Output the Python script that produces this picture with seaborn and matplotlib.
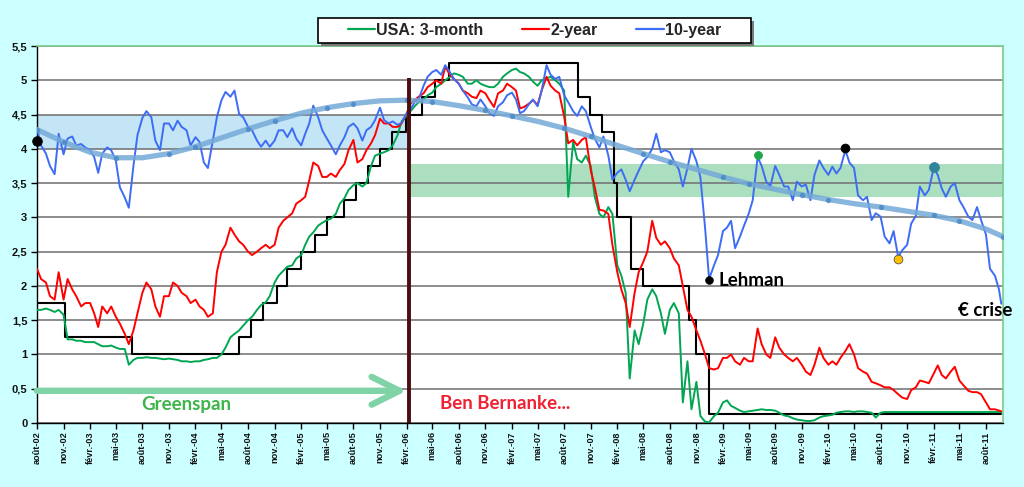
import numpy as np
import pandas as pd
import matplotlib
matplotlib.use("Agg")
import matplotlib.pyplot as plt
import matplotlib.dates as mdates
from matplotlib.ticker import FuncFormatter, MultipleLocator
from matplotlib.lines import Line2D
from matplotlib.patches import Rectangle
import seaborn as sns

# ---------------- data ----------------
# semi-monthly sample dates: 1st and 15th of each month, Aug 2002 .. Sep 2011, plus last day
month_starts = pd.date_range("2002-08-01", "2011-09-01", freq="MS")
dates = sorted(list(month_starts) + list(month_starts + pd.Timedelta(days=14)))
dates.append(pd.Timestamp("2011-09-23"))

y10_2002 = [4.30, 4.05, 3.93, 3.75, 3.63, 4.22, 3.92, 4.15, 4.18, 4.05]
y10_2003 = [4.07, 4.02, 3.98, 3.88, 3.65, 3.93, 4.02, 3.98, 3.83, 3.44, 3.29, 3.14,
            3.75, 4.20, 4.45, 4.55, 4.46, 4.12, 3.98, 4.37, 4.37, 4.27, 4.41, 4.32]
y10_2004 = [4.27, 4.05, 4.17, 4.10, 3.80, 3.72, 4.12, 4.46, 4.71, 4.83, 4.76, 4.85,
            4.51, 4.46, 4.32, 4.27, 4.12, 4.03, 4.12, 4.03, 4.12, 4.27, 4.27, 4.17]
y10_2005 = [4.30, 4.15, 4.05, 4.22, 4.37, 4.63, 4.46, 4.27, 4.15, 4.05, 3.92, 4.05,
            4.17, 4.32, 4.37, 4.30, 4.12, 4.27, 4.32, 4.42, 4.60, 4.42, 4.37, 4.40]
y10_2006 = [4.35, 4.38, 4.52, 4.58, 4.68, 4.72, 4.92, 5.05, 5.12, 5.15, 5.08, 5.22,
            5.12, 5.02, 4.95, 4.85, 4.75, 4.65, 4.62, 4.72, 4.62, 4.52, 4.48, 4.62]
y10_2007 = [4.68, 4.78, 4.82, 4.72, 4.52, 4.55, 4.65, 4.72, 4.62, 4.85, 5.22, 5.08,
            5.02, 5.05, 4.78, 4.68, 4.55, 4.48, 4.62, 4.55, 4.32, 4.15, 4.02, 4.18]
y10_2008 = [3.90, 3.55, 3.65, 3.70, 3.55, 3.38, 3.55, 3.68, 3.82, 3.88, 4.00, 4.22,
            3.95, 3.98, 3.95, 3.82, 3.70, 3.45, 3.72, 4.00, 3.82, 3.58, 2.85, 2.10]
y10_2009 = [2.30, 2.45, 2.80, 2.85, 2.95, 2.55, 2.72, 2.88, 3.05, 3.25, 3.88, 3.75,
            3.52, 3.45, 3.75, 3.62, 3.45, 3.45, 3.25, 3.52, 3.45, 3.48, 3.25, 3.62]
y10_2010 = [3.83, 3.72, 3.62, 3.74, 3.64, 3.72, 3.98, 3.80, 3.72, 3.32, 3.25, 3.30,
            2.96, 3.06, 3.01, 2.72, 2.62, 2.80, 2.42, 2.52, 2.60, 2.91, 3.02, 3.45]
y10_2011 = [3.32, 3.40, 3.72, 3.62, 3.42, 3.30, 3.45, 3.50, 3.25, 3.15, 3.01, 2.96,
            3.15, 2.96, 2.75, 2.25, 2.15, 1.95, 1.74]

y2_2002 = [2.25, 2.10, 2.05, 1.85, 1.80, 2.20, 1.80, 2.10, 1.95, 1.85]
y2_2003 = [1.70, 1.75, 1.75, 1.60, 1.40, 1.70, 1.60, 1.70, 1.55, 1.45, 1.30, 1.15,
           1.35, 1.60, 1.90, 2.05, 1.95, 1.70, 1.55, 1.85, 1.85, 2.05, 2.00, 1.90]
y2_2004 = [1.85, 1.75, 1.80, 1.70, 1.65, 1.55, 1.60, 2.20, 2.50, 2.60, 2.85, 2.75,
           2.65, 2.60, 2.50, 2.45, 2.50, 2.55, 2.60, 2.55, 2.60, 2.85, 2.95, 3.00]
y2_2005 = [3.06, 3.20, 3.25, 3.30, 3.54, 3.80, 3.75, 3.59, 3.59, 3.64, 3.59, 3.69,
           3.78, 3.98, 4.13, 3.80, 3.85, 3.98, 4.08, 4.20, 4.44, 4.37, 4.37, 4.32]
y2_2006 = [4.32, 4.37, 4.51, 4.66, 4.71, 4.76, 4.81, 4.90, 4.95, 5.00, 4.95, 5.20,
           5.08, 5.02, 4.95, 4.85, 4.81, 4.76, 4.74, 4.85, 4.81, 4.71, 4.61, 4.81]
y2_2007 = [4.85, 4.95, 4.90, 4.85, 4.59, 4.61, 4.66, 4.71, 4.64, 4.85, 5.05, 4.92,
           4.85, 4.81, 4.47, 4.08, 4.13, 4.05, 4.13, 4.17, 3.69, 3.44, 3.11, 3.10]
y2_2008 = [3.05, 2.60, 2.20, 1.95, 1.75, 1.40, 1.90, 2.20, 2.35, 2.50, 2.95, 2.70,
           2.60, 2.65, 2.55, 2.40, 2.30, 2.00, 1.65, 1.55, 1.35, 1.20, 1.00, 0.80]
y2_2009 = [0.78, 0.80, 0.95, 0.95, 1.00, 0.90, 0.85, 0.95, 0.90, 0.90, 1.38, 1.15,
           1.00, 0.95, 1.25, 1.10, 1.00, 0.95, 0.90, 0.95, 0.85, 0.75, 0.70, 0.85]
y2_2010 = [1.10, 0.95, 0.85, 0.90, 0.85, 0.95, 1.05, 1.15, 1.00, 0.80, 0.75, 0.72,
           0.60, 0.58, 0.55, 0.52, 0.52, 0.48, 0.42, 0.37, 0.35, 0.48, 0.52, 0.62]
y2_2011 = [0.60, 0.58, 0.72, 0.84, 0.70, 0.65, 0.75, 0.82, 0.62, 0.55, 0.47, 0.45,
           0.45, 0.42, 0.30, 0.20, 0.20, 0.18, 0.17]

y3m_2002 = [1.65, 1.65, 1.67, 1.65, 1.62, 1.65, 1.58, 1.22, 1.22, 1.20]
y3m_2003 = [1.20, 1.18, 1.18, 1.18, 1.15, 1.12, 1.12, 1.13, 1.10, 1.08, 1.08, 0.85,
            0.92, 0.95, 0.95, 0.96, 0.95, 0.95, 0.94, 0.93, 0.94, 0.93, 0.92, 0.90]
y3m_2004 = [0.90, 0.89, 0.90, 0.90, 0.92, 0.93, 0.95, 0.95, 1.00, 1.10, 1.25, 1.30,
            1.35, 1.42, 1.50, 1.55, 1.65, 1.72, 1.76, 1.85, 2.05, 2.15, 2.22, 2.28]
y3m_2005 = [2.30, 2.40, 2.45, 2.60, 2.72, 2.78, 2.88, 2.92, 2.96, 2.98, 3.05, 3.20,
            3.28, 3.40, 3.47, 3.50, 3.45, 3.50, 3.75, 3.90, 3.93, 3.95, 3.98, 4.05]
y3m_2006 = [4.20, 4.40, 4.48, 4.55, 4.62, 4.68, 4.72, 4.78, 4.82, 4.90, 4.95, 5.00,
            5.05, 5.10, 5.08, 5.05, 4.95, 4.95, 5.00, 4.95, 4.92, 4.90, 4.90, 4.95]
y3m_2007 = [5.05, 5.10, 5.15, 5.17, 5.12, 5.10, 5.05, 4.98, 4.92, 5.00, 5.03, 5.05,
            5.00, 4.95, 4.85, 3.30, 4.10, 3.85, 3.80, 3.90, 3.75, 3.30, 3.05, 3.00]
y3m_2008 = [3.15, 3.05, 2.30, 2.15, 1.90, 0.65, 1.35, 1.15, 1.45, 1.80, 1.95, 1.85,
            1.60, 1.30, 1.65, 1.75, 1.60, 0.30, 0.90, 0.20, 0.60, 0.10, 0.02, 0.01]
y3m_2009 = [0.10, 0.15, 0.30, 0.33, 0.25, 0.22, 0.18, 0.16, 0.17, 0.18, 0.19, 0.20,
            0.19, 0.19, 0.18, 0.15, 0.11, 0.10, 0.07, 0.05, 0.04, 0.03, 0.03, 0.04]
y3m_2010 = [0.08, 0.10, 0.11, 0.12, 0.15, 0.16, 0.17, 0.17, 0.16, 0.17, 0.17, 0.16,
            0.15, 0.08, 0.15, 0.16, 0.16, 0.16, 0.16, 0.16, 0.16, 0.16, 0.16, 0.16]
y3m_2011 = [0.16, 0.16, 0.16, 0.16, 0.16, 0.16, 0.16, 0.16, 0.16, 0.16, 0.16, 0.16,
            0.16, 0.16, 0.16, 0.16, 0.16, 0.16, 0.16]

y10 = (y10_2002 + y10_2003 + y10_2004 + y10_2005 + y10_2006 + y10_2007 +
       y10_2008 + y10_2009 + y10_2010 + y10_2011)
y2 = (y2_2002 + y2_2003 + y2_2004 + y2_2005 + y2_2006 + y2_2007 +
      y2_2008 + y2_2009 + y2_2010 + y2_2011)
y3m = (y3m_2002 + y3m_2003 + y3m_2004 + y3m_2005 + y3m_2006 + y3m_2007 +
       y3m_2008 + y3m_2009 + y3m_2010 + y3m_2011)

# Fed funds target (black step line)
ff_dates = ["2002-08-01", "2002-11-06", "2003-06-25", "2004-06-30", "2004-08-10",
            "2004-09-21", "2004-11-10", "2004-12-14", "2005-02-02", "2005-03-22",
            "2005-05-03", "2005-06-30", "2005-08-09", "2005-09-20", "2005-11-01",
            "2005-12-13", "2006-01-31", "2006-03-28", "2006-05-10", "2006-06-29",
            "2007-09-18", "2007-10-31", "2007-12-11", "2008-01-22", "2008-01-30",
            "2008-03-18", "2008-04-30", "2008-10-08", "2008-10-29", "2008-12-16",
            "2011-09-23"]
ff_vals = [1.75, 1.25, 1.00, 1.25, 1.50, 1.75, 2.00, 2.25, 2.50, 2.75, 3.00, 3.25,
           3.50, 3.75, 4.00, 4.25, 4.50, 4.75, 5.00, 5.25, 4.75, 4.50, 4.25, 3.50,
           3.00, 2.25, 2.00, 1.50, 1.00, 0.125, 0.125]

tr_dates = ["2002-08-01", "2002-11-01", "2003-02-01", "2003-05-01", "2003-08-01",
            "2003-11-01", "2004-02-01", "2004-05-01", "2004-08-01", "2004-11-01",
            "2005-02-01", "2005-05-01", "2005-08-01", "2005-11-01", "2006-02-01",
            "2006-05-01", "2006-08-01", "2006-11-01", "2007-02-01", "2007-05-01",
            "2007-08-01", "2007-11-01", "2008-02-01", "2008-05-01", "2008-08-01",
            "2008-11-01", "2009-02-01", "2009-05-01", "2009-08-01", "2009-11-01",
            "2010-02-01", "2010-05-01", "2010-08-01", "2010-11-01", "2011-02-01",
            "2011-05-01", "2011-08-01", "2011-09-29"]
tr_vals = [4.28, 4.10, 3.95, 3.87, 3.87, 3.93, 4.03, 4.16, 4.29, 4.41, 4.52, 4.60,
           4.66, 4.70, 4.71, 4.69, 4.63, 4.56, 4.48, 4.40, 4.30, 4.18, 4.05, 3.93,
           3.81, 3.70, 3.59, 3.49, 3.41, 3.33, 3.26, 3.20, 3.15, 3.09, 3.03, 2.95,
           2.83, 2.72]

# highlighted points on the 10-year
pt_dates = ["2002-08-01", "2008-12-15", "2009-06-01", "2010-04-01", "2010-10-01", "2011-02-01"]
pt_vals = [4.12, 2.08, 3.91, 4.01, 2.39, 3.74]
pt_colors = ["#000000", "#000000", "#1FA64A", "#000000", "#FFC000", "#31849B"]
pt_sizes = [48, 30, 32, 40, 40, 50]

series_labels = ["USA: 3-month", "2-year", "10-year"]
fr_months = {2: "févr.", 5: "mai", 8: "août", 11: "nov."}

# ---------------- styling ----------------
sns.set_theme(style="white")
plt.rcParams["font.family"] = ["Liberation Sans", "DejaVu Sans"]
plt.rcParams["font.weight"] = "bold"

GREEN = "#00A651"
RED = "#FF0000"
BLUE = "#3D6CF5"
BG = "#CCFFFF"

fig = plt.figure(figsize=(10.24, 4.87), dpi=100, facecolor=BG)
ax = fig.add_axes([37 / 1024, 64 / 487, 966 / 1024, 377 / 487])
ax.set_facecolor("white")

df = pd.DataFrame({"date": pd.to_datetime(dates), "m3": y3m, "y2": y2, "y10": y10})
ff = pd.DataFrame({"date": pd.to_datetime(ff_dates), "v": ff_vals})
tr = pd.DataFrame({"date": pd.to_datetime(tr_dates), "v": tr_vals})

x0 = mdates.date2num(pd.Timestamp("2002-08-01"))
x1 = mdates.date2num(pd.Timestamp("2011-09-29"))
xb = mdates.date2num(pd.Timestamp("2006-02-08"))

# shaded bands
ax.fill_between([x0, xb], 4.0, 4.5, color="#C4E5F6", lw=0, zorder=0.2)
ax.fill_between([mdates.date2num(pd.Timestamp("2006-02-16")), x1], 3.30, 3.78,
                color="#ABDFC0", lw=0, zorder=0.2)

# series
sns.lineplot(data=ff, x="date", y="v", ax=ax, color="black", lw=1.5,
             drawstyle="steps-post", zorder=2, legend=False)
sns.lineplot(data=df, x="date", y="m3", ax=ax, color=GREEN, lw=1.4, zorder=3, legend=False)
sns.lineplot(data=df, x="date", y="y2", ax=ax, color=RED, lw=1.4, zorder=3.1, legend=False)
sns.lineplot(data=df, x="date", y="y10", ax=ax, color=BLUE, lw=1.4, zorder=3.2, legend=False)
sns.lineplot(data=tr, x="date", y="v", ax=ax, color="#74A9D8", lw=3.8, alpha=0.85,
             marker="o", markevery=0.04, markersize=3.8, markerfacecolor="#4A8AC8",
             markeredgewidth=0, zorder=3.5, legend=False)

# Bernanke vertical line
ax.plot([xb, xb], [0, 5.03], color="#4A0E0E", lw=2.8, zorder=5, solid_capstyle="butt")

# Greenspan arrow
ax.annotate("", xy=(mdates.date2num(pd.Timestamp("2006-02-01")), 0.47), xytext=(x0, 0.47),
            arrowprops=dict(arrowstyle="->,head_length=1.0,head_width=0.5",
                            mutation_scale=20, color="#7FD3A6", lw=4.6,
                            shrinkA=0, shrinkB=0), zorder=4)

# highlighted dots
for d, v, c, s in zip(pt_dates, pt_vals, pt_colors, pt_sizes):
    ax.scatter([mdates.date2num(pd.Timestamp(d))], [v], s=s, color=c,
               edgecolor="#555555" if c == "#FFC000" else c, lw=0.6,
               zorder=6, clip_on=False)

ann_font = ["Lato", "DejaVu Sans"]
ax.text(mdates.date2num(pd.Timestamp("2004-01-01")), 0.27, "Greenspan", color="#3DB54A",
        fontsize=13.5, fontweight="bold", family=ann_font, ha="center", va="center", zorder=6)
ax.text(mdates.date2num(pd.Timestamp("2006-05-28")), 0.29, "Ben Bernanke...", color="#EE2233",
        fontsize=13.5, fontweight="bold", family=ann_font, ha="left", va="center", zorder=6)
ax.text(mdates.date2num(pd.Timestamp("2009-01-16")), 2.08, "Lehman", color="black",
        fontsize=13.5, fontweight="bold", family=ann_font, ha="left", va="center", zorder=6)
ax.text(mdates.date2num(pd.Timestamp("2011-04-25")), 1.64, "€ crise", color="black",
        fontsize=13.5, fontweight="bold", family=ann_font, ha="left", va="center",
        zorder=7, clip_on=False)

# axes
ax.set_xlim(x0, x1)
ax.set_ylim(0, 5.5)
ax.yaxis.set_major_locator(MultipleLocator(0.5))
ax.yaxis.set_major_formatter(FuncFormatter(lambda v, p: ("%g" % v).replace(".", ",")))
ax.xaxis.set_major_locator(mdates.MonthLocator(bymonth=[2, 5, 8, 11], bymonthday=1))


def fmt_date(v, p):
    d = mdates.num2date(v)
    return "%s-%02d" % (fr_months[d.month], d.year % 100)


ax.xaxis.set_major_formatter(FuncFormatter(fmt_date))
ax.set_xlabel("")
ax.set_ylabel("")
ax.tick_params(axis="x", labelrotation=90, labelsize=6.6, length=4, width=1,
               direction="out", pad=2, color="black", bottom=True)
ax.tick_params(axis="y", labelsize=8, length=4, width=1, direction="out", pad=3,
               color="black", left=True)
for lab in ax.get_xticklabels() + ax.get_yticklabels():
    lab.set_fontweight("bold")
    lab.set_color("#111111")

ax.set_axisbelow(True)
ax.yaxis.grid(True, color="#6E6E6E", lw=1.1)
ax.xaxis.grid(False)
for side in ["left", "bottom"]:
    ax.spines[side].set_color("black")
    ax.spines[side].set_linewidth(1.0)
for side in ["top", "right"]:
    ax.spines[side].set_color("#7CCB8C")
    ax.spines[side].set_linewidth(1.2)

# legend box (drawn as its own frame with a shadow) + frameless legend
W, H = 1024.0, 487.0
bx, by, bw, bh = 318 / W, 1 - 43 / H, 433 / W, 25 / H
fig.patches.append(Rectangle((bx + 3 / W, by - 3 / H), bw, bh, transform=fig.transFigure,
                             facecolor="#7A7A7A", edgecolor="none", zorder=8))
fig.patches.append(Rectangle((bx, by), bw, bh, transform=fig.transFigure,
                             facecolor="white", edgecolor="black", lw=1.2, zorder=9))
handles = [Line2D([0], [0], color=GREEN, lw=1.6),
           Line2D([0], [0], color=RED, lw=1.6),
           Line2D([0], [0], color=BLUE, lw=1.6)]
leg = fig.legend(handles, series_labels, loc="center", bbox_to_anchor=(0.522, by + bh / 2),
                 ncol=3, frameon=False,
                 prop={"family": "Liberation Sans", "weight": "bold", "size": 11.5},
                 handlelength=1.7, handletextpad=0.1, columnspacing=2.4,
                 borderpad=0.3, borderaxespad=0)
leg.set_zorder(10)

fig.savefig("out.png", dpi=100, facecolor=BG)
